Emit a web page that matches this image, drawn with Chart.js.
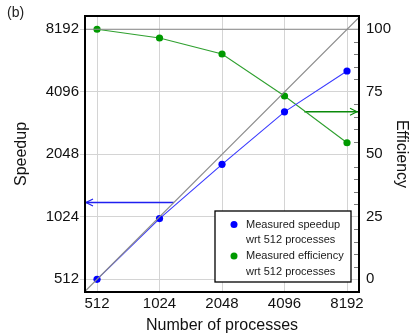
<!DOCTYPE html>
<html>
<head>
<meta charset="utf-8">
<script src="https://cdn.jsdelivr.net/npm/chart.js@4"></script>
<style>
  html, body { margin: 0; padding: 0; background: #fff; }
  #wrap { width: 411px; height: 335px; }
</style>
</head>
<body>
<div id="wrap"><canvas id="chart" width="411" height="335"></canvas></div>
<script>
  // data
  const processes = [512, 1024, 2048, 4096, 8192];
  const speedup = [512, 1005, 1833, 3281, 5160];
  const efficiency = [100, 96.5, 90.1, 73.3, 54.6];
  const xTicks = [512, 1024, 2048, 4096, 8192];
  const speedupTicks = [512, 1024, 2048, 4096, 8192];
  const efficiencyTicks = [0, 25, 50, 75, 100];
  const efficiencyMinor = [5, 10, 15, 20, 30, 35, 40, 45, 55, 60, 65, 70, 80, 85, 90, 95];
  const idealEfficiency = 100;
  // arrows: [start x, level]
  const speedupArrow = [1200, 1200];
  const efficiencyArrow = [5100, 67];
  const legendLabels = [
    ["Measured speedup", "wrt 512 processes"],
    ["Measured efficiency", "wrt 512 processes"]
  ];

  const X_MIN = 448, X_MAX = 9357;
  const Y_MIN = 445, Y_MAX = 9497;
  const E_MIN = -5.1, E_MAX = 105.3;

  const FONT = "'Liberation Sans', Arial, sans-serif";
  const BLUE = "#0000ff";
  const BLUE_LINE = "#3b3bff";
  const GREEN = "#009a00";
  const GREEN_LINE = "#2fa02f";
  const GRAY = "#8c8c8c";
  const GRID = "#d4d4d4";

  function arrowHead(ctx, x, y, dir, color) {
    ctx.save();
    ctx.strokeStyle = color;
    ctx.lineWidth = 1.2;
    ctx.beginPath();
    ctx.moveTo(x - dir * 7, y - 3.5);
    ctx.lineTo(x, y);
    ctx.lineTo(x - dir * 7, y + 3.5);
    ctx.stroke();
    ctx.restore();
  }

  const decor = {
    id: "decor",
    afterDatasetsDraw(chart) {
      const ctx = chart.ctx;
      const a = chart.chartArea;
      const sx = chart.scales.x, sy = chart.scales.y, se = chart.scales.y1;

      // arrow heads
      arrowHead(ctx, sx.getPixelForValue(X_MIN) + 1, sy.getPixelForValue(speedupArrow[1]), -1, "#1f1ff0");
      arrowHead(ctx, sx.getPixelForValue(X_MAX) - 2, se.getPixelForValue(efficiencyArrow[1]), 1, "#0a8a0a");

      // minor ticks on the efficiency axis, pointing inward
      ctx.save();
      ctx.strokeStyle = "#7a7a7a";
      ctx.lineWidth = 1;
      efficiencyMinor.forEach(function (v) {
        const y = Math.round(se.getPixelForValue(v)) + 0.5;
        ctx.beginPath();
        ctx.moveTo(a.right - 5, y);
        ctx.lineTo(a.right, y);
        ctx.stroke();
      });
      ctx.restore();

      // legend box
      const lx = 215, ly = 211, lw = 136, lh = 71;
      ctx.save();
      ctx.fillStyle = "#fff";
      ctx.fillRect(lx, ly, lw, lh);
      ctx.strokeStyle = "#000";
      ctx.lineWidth = 1.3;
      ctx.strokeRect(lx, ly, lw, lh);
      ctx.font = "11px " + FONT;
      ctx.textBaseline = "middle";
      ctx.textAlign = "left";
      const colors = [BLUE, GREEN];
      legendLabels.forEach(function (lines, i) {
        const y0 = ly + 13.5 + i * 31.5;
        ctx.fillStyle = colors[i];
        ctx.beginPath();
        ctx.arc(lx + 19, y0, 3.5, 0, Math.PI * 2);
        ctx.fill();
        ctx.fillStyle = "#1a1a1a";
        lines.forEach(function (t, j) {
          ctx.fillText(t, lx + 31, y0 + j * 15.5);
        });
      });
      ctx.restore();

      // frame
      ctx.save();
      ctx.strokeStyle = "#000";
      ctx.lineWidth = 2;
      ctx.strokeRect(a.left, a.top, a.right - a.left, a.bottom - a.top);
      ctx.restore();

      // panel label
      ctx.save();
      ctx.font = "14px " + FONT;
      ctx.fillStyle = "#222";
      ctx.textBaseline = "middle";
      ctx.fillText("(b)", 7, 13);
      ctx.restore();
    }
  };

  function pts(xs, ys) {
    return xs.map(function (x, i) { return { x: x, y: ys[i] }; });
  }

  new Chart(document.getElementById("chart"), {
    type: "line",
    data: {
      datasets: [
        {
          data: [{ x: X_MIN, y: X_MIN }, { x: X_MAX, y: X_MAX }],
          yAxisID: "y", borderColor: GRAY, borderWidth: 1.2, pointRadius: 0
        },
        {
          data: [{ x: X_MIN, y: idealEfficiency }, { x: X_MAX, y: idealEfficiency }],
          yAxisID: "y1", borderColor: GRAY, borderWidth: 1.2, pointRadius: 0
        },
        {
          data: pts(processes, speedup),
          yAxisID: "y", borderColor: BLUE_LINE, borderWidth: 1.1,
          pointRadius: 3.6, pointBackgroundColor: BLUE, pointBorderWidth: 0
        },
        {
          data: pts(processes, efficiency),
          yAxisID: "y1", borderColor: GREEN_LINE, borderWidth: 1.1,
          pointRadius: 3.6, pointBackgroundColor: GREEN, pointBorderWidth: 0
        },
        {
          data: [{ x: speedupArrow[0], y: speedupArrow[1] }, { x: X_MIN, y: speedupArrow[1] }],
          yAxisID: "y", borderColor: "#1f1ff0", borderWidth: 1.4, pointRadius: 0
        },
        {
          data: [{ x: efficiencyArrow[0], y: efficiencyArrow[1] }, { x: X_MAX, y: efficiencyArrow[1] }],
          yAxisID: "y1", borderColor: "#0a8a0a", borderWidth: 1.4, pointRadius: 0
        }
      ]
    },
    options: {
      responsive: false,
      animation: false,
      devicePixelRatio: 1,
      layout: { padding: { top: 16, left: 0, right: 0, bottom: 0 } },
      plugins: { legend: { display: false }, tooltip: { enabled: false } },
      scales: {
        x: {
          type: "logarithmic",
          min: X_MIN, max: X_MAX,
          afterBuildTicks: function (s) { s.ticks = xTicks.map(function (v) { return { value: v }; }); },
          afterFit: function (s) { s.height = 43; },
          ticks: { color: "#111", font: { family: FONT, size: 15 }, padding: 3, autoSkip: false, maxRotation: 0,
            callback: function (v) { return String(v); } },
          grid: { color: GRID, drawTicks: false },
          border: { display: false },
          title: { display: true, text: "Number of processes", color: "#111",
            font: { family: FONT, size: 16 }, padding: { top: 0, bottom: 0 } }
        },
        y: {
          type: "logarithmic",
          position: "left",
          min: Y_MIN, max: Y_MAX,
          afterBuildTicks: function (s) { s.ticks = speedupTicks.map(function (v) { return { value: v }; }); },
          afterFit: function (s) { s.width = 85; },
          ticks: { color: "#111", font: { family: FONT, size: 15 }, padding: 1, autoSkip: false,
            callback: function (v) { return String(v); } },
          grid: { color: GRID, drawTicks: true, tickLength: 5 },
          border: { display: false },
          title: { display: true, text: "Speedup", color: "#111",
            font: { family: FONT, size: 16 }, padding: { top: 12, bottom: 0 } }
        },
        y1: {
          type: "linear",
          position: "right",
          min: E_MIN, max: E_MAX,
          afterBuildTicks: function (s) { s.ticks = efficiencyTicks.map(function (v) { return { value: v }; }); },
          afterFit: function (s) { s.width = 52; },
          ticks: { color: "#111", font: { family: FONT, size: 15 }, padding: 7, autoSkip: false },
          grid: { display: false, drawTicks: false },
          border: { display: false },
          title: { display: true, text: "Efficiency", color: "#111",
            font: { family: FONT, size: 16 }, padding: { top: 0, bottom: 0 } }
        }
      }
    },
    plugins: [decor]
  });
</script>
</body>
</html>
